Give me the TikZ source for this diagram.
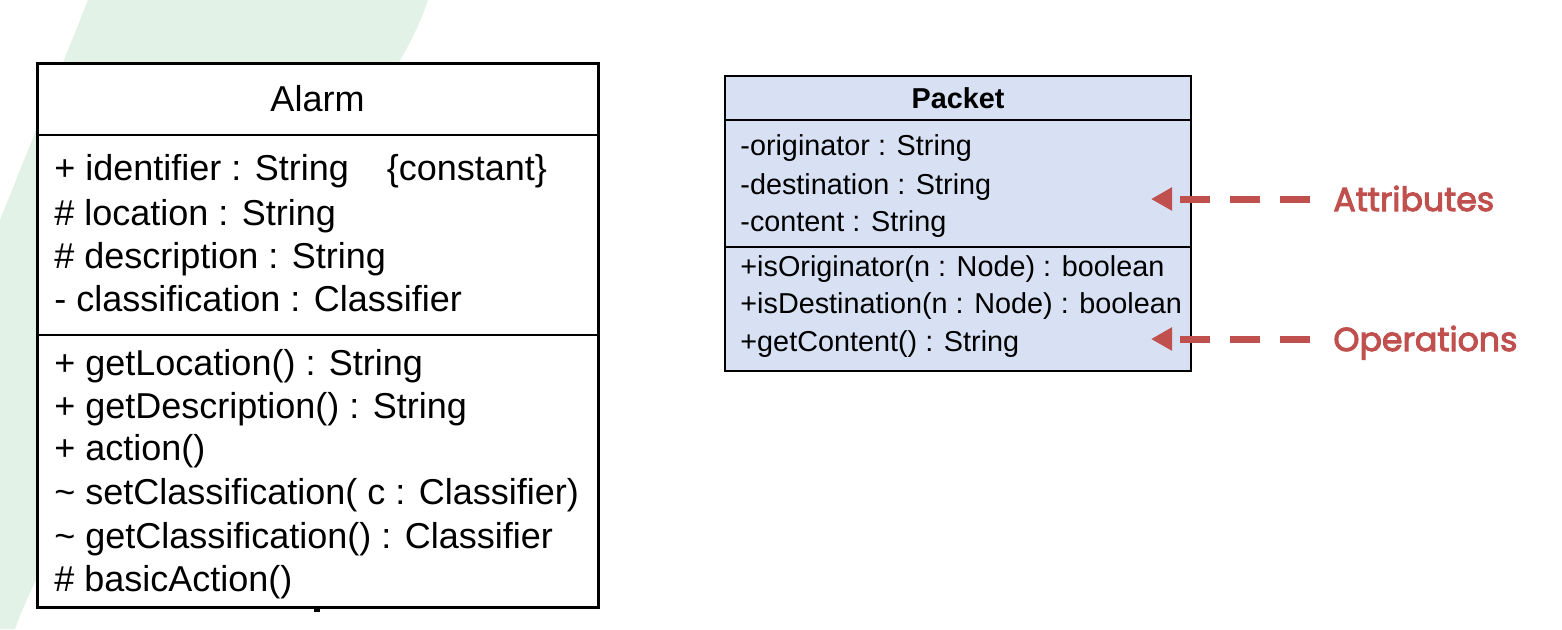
\documentclass[tikz,border=0pt]{standalone}
\usepackage{fontspec}
\setmainfont{Liberation Sans}
\newfontfamily\notefont{Poppins}[FakeBold=3]
\usetikzlibrary{arrows.meta}
\definecolor{mintbg}{RGB}{226,242,231}
\definecolor{packetblue}{RGB}{215,225,243}
\definecolor{notered}{RGB}{192,80,77}

\begin{document}
\begin{tikzpicture}[x=0.5pt,y=-0.5pt,
  alarmrow/.style={anchor=base west,inner sep=0pt,font=\fontsize{18}{18}\selectfont},
  packetrow/.style={anchor=base west,inner sep=0pt,font=\fontsize{14.4}{14.4}\selectfont},
  notelabel/.style={anchor=west,inner sep=0pt,text height=12pt,text depth=0pt,
    text=notered,font=\notefont\fontsize{16.6}{16.6}\selectfont},
  callout/.style={notered,line width=3.5pt,dash pattern=on 15pt off 10pt,
    shorten <=11.5pt,-{Triangle[length=10.5pt,width=11pt]}}]
  \useasboundingbox (0,0) rectangle (1562,629);
  % faint band behind the left class
  \fill[mintbg] (88,0) -- (428,0) .. controls (380,150) and (100,400) .. (15,629)
    -- (0,629) -- (0,220) -- cycle;
  %%% class Alarm
  \draw[line width=1.5pt,fill=white] (37,63) rectangle (598,607);
  \draw[line width=1.2pt] (37,135) -- (598,135);
  \draw[line width=1.2pt] (37,335) -- (598,335);
  \fill[black] (314,607) rectangle (320,612);
  \node[alarmrow,anchor=base] (alarm) at (317.5,111) {Alarm};
  \node[alarmrow] (identifier) at (54,180) {+ identifier : String\hspace{19pt}\{constant\}};
  \node[alarmrow] (location) at (54,225) {\# location : String};
  \node[alarmrow] (description) at (54,268) {\# description : String};
  \node[alarmrow] (classification) at (54,311) {- classification : Classifier};
  \node[alarmrow] (getlocation) at (54,375) {+ getLocation() : String};
  \node[alarmrow] (getdescription) at (54,418) {+ getDescription() : String};
  \node[alarmrow] (action) at (54,460) {+ action()};
  \node[alarmrow] (setclass) at (54,504) {\textasciitilde\ setClassification( c : Classifier)};
  \node[alarmrow] (getclass) at (54,548) {\textasciitilde\ getClassification() : Classifier};
  \node[alarmrow] (basicaction) at (54,591) {\# basicAction()};
  %%% class Packet
  \draw[line width=1.25pt,fill=packetblue] (725,76) rectangle (1191,371);
  \draw[line width=1pt] (725,120) -- (1191,120);
  \draw[line width=1pt] (725,247) -- (1191,247);
  \node[packetrow,anchor=base,font=\fontsize{14.4}{14.4}\selectfont\bfseries] (packet) at (958,108) {Packet};
  \node[packetrow] (originator) at (740,155) {-originator : String};
  \node[packetrow] (destination) at (740,194) {-destination : String};
  \node[packetrow] (content) at (740,231) {-content : String};
  \node[packetrow] (isoriginator) at (740,276) {+isOriginator(n : Node) : boolean};
  \node[packetrow] (isdestination) at (740,313) {+isDestination(n : Node) : boolean};
  \node[packetrow] (getcontent) at (740,351) {+getContent() : String};
  %%% notes
  \node[notelabel] (attributes) at (1333,199) {Attributes};
  \node[notelabel] (operations) at (1333,339) {Operations};
  \coordinate (attrtip) at (1151,199);
  \coordinate (opertip) at (1151,339);
  \draw[callout] (attributes.west) -- (attrtip);
  \draw[callout] (operations.west) -- (opertip);
\end{tikzpicture}
\end{document}
